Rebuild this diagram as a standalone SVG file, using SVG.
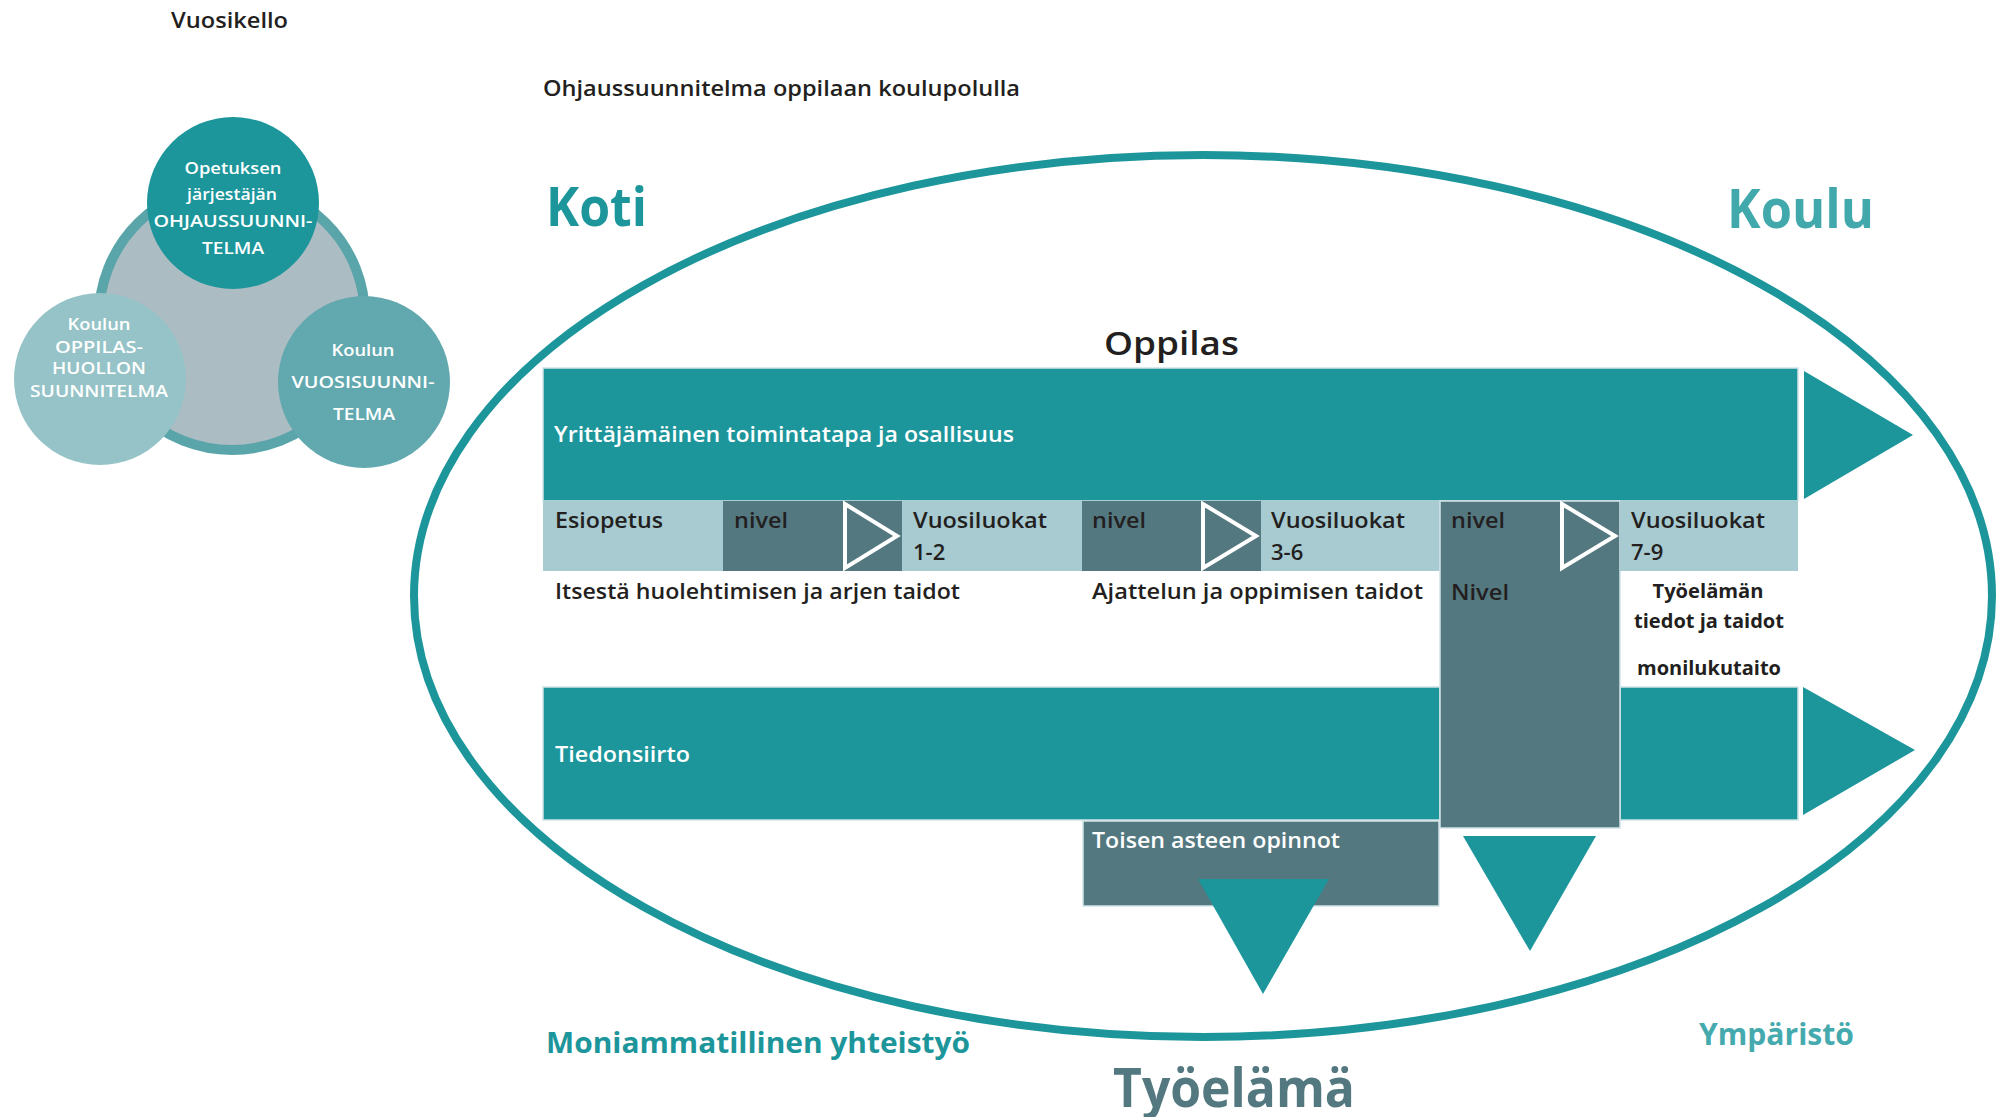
<svg xmlns="http://www.w3.org/2000/svg" width="2000" height="1117" viewBox="0 0 2000 1117">
<style>
text{font-family:"Open Sans",Lato,"Liberation Sans",sans-serif;font-weight:600}
.dk{fill:#231f20}
.wh{fill:#fff}
.teal{fill:#1c969b}
.slate{fill:#537880}
.light{fill:#a7cbd1}
.box{stroke:#d2e4e7;stroke-width:1.5}
.tri{fill:none;stroke:#fff;stroke-width:4;stroke-linejoin:miter}
.ct{fill:#fff;font-size:17px;font-weight:600;text-anchor:middle}
.row{font-size:22px}
.big{font-weight:700}
</style>
<rect width="2000" height="1117" fill="#fff"/>

<g id="titles">
<text class="dk" x="171" y="28" font-size="22" textLength="117" lengthAdjust="spacingAndGlyphs">Vuosikello</text>
<text class="dk" x="543" y="96" font-size="21" textLength="477" lengthAdjust="spacingAndGlyphs">Ohjaussuunnitelma oppilaan koulupolulla</text>
</g>

<g id="vuosikello">
<circle cx="232" cy="317" r="133" fill="#acbcc3" stroke="#5aa5aa" stroke-width="10"/>
<g id="ohjaussuunnitelma">
<circle cx="233" cy="203" r="86" fill="#1c969b"/>
<text class="ct" x="233" y="174" textLength="97" lengthAdjust="spacingAndGlyphs">Opetuksen</text>
<text class="ct" x="232" y="200" textLength="90" lengthAdjust="spacingAndGlyphs">järjestäjän</text>
<text class="ct" x="233" y="227" textLength="159" lengthAdjust="spacingAndGlyphs">OHJAUSSUUNNI-</text>
<text class="ct" x="233" y="254" textLength="62" lengthAdjust="spacingAndGlyphs">TELMA</text>
</g>
<g id="oppilashuolto">
<circle cx="100" cy="379" r="86" fill="#95c3c7"/>
<text class="ct" x="99" y="330" textLength="63" lengthAdjust="spacingAndGlyphs">Koulun</text>
<text class="ct" x="99" y="353" textLength="88" lengthAdjust="spacingAndGlyphs">OPPILAS-</text>
<text class="ct" x="99" y="374" textLength="94" lengthAdjust="spacingAndGlyphs">HUOLLON</text>
<text class="ct" x="99" y="397" textLength="138" lengthAdjust="spacingAndGlyphs">SUUNNITELMA</text>
</g>
<g id="vuosisuunnitelma">
<circle cx="364" cy="382" r="86" fill="#62a9af"/>
<text class="ct" x="363" y="356" textLength="63" lengthAdjust="spacingAndGlyphs">Koulun</text>
<text class="ct" x="363" y="388" textLength="143" lengthAdjust="spacingAndGlyphs">VUOSISUUNNI-</text>
<text class="ct" x="364" y="420" textLength="62" lengthAdjust="spacingAndGlyphs">TELMA</text>
</g>
</g>

<g id="ymparisto">
<ellipse cx="1203" cy="596" rx="789" ry="441" fill="none" stroke="#1c969b" stroke-width="8"/>
<text class="big" x="546" y="226" font-size="53" fill="#1c969b" textLength="101" lengthAdjust="spacingAndGlyphs">Koti</text>
<text class="big" x="1727" y="228" font-size="53" fill="#41a8ac" textLength="147" lengthAdjust="spacingAndGlyphs">Koulu</text>
<text class="dk" x="1104" y="355" font-size="32" textLength="135" lengthAdjust="spacingAndGlyphs">Oppilas</text>
<text class="big" x="546" y="1053" font-size="28" fill="#1c969b" textLength="424" lengthAdjust="spacingAndGlyphs">Moniammatillinen yhteistyö</text>
<text class="big" x="1113" y="1107" font-size="53" fill="#537880" textLength="242" lengthAdjust="spacingAndGlyphs">Työelämä</text>
<text class="big" x="1699" y="1045" font-size="31" fill="#45aaae" textLength="155" lengthAdjust="spacingAndGlyphs">Ympäristö</text>
</g>

<g id="yrittajamainen">
<rect class="teal box" x="543" y="368" width="1255" height="133"/>
<text class="wh row" x="554" y="442" textLength="460" lengthAdjust="spacingAndGlyphs">Yrittäjämäinen toimintatapa ja osallisuus</text>
</g>

<g id="esiopetus">
<rect class="light" x="543" y="501" width="180" height="70"/>
<text class="dk row" x="555" y="528" textLength="108" lengthAdjust="spacingAndGlyphs">Esiopetus</text>
</g>
<g id="nivel1">
<rect class="slate" x="723" y="501" width="179" height="70"/>
<text class="dk row" x="734" y="528" textLength="54" lengthAdjust="spacingAndGlyphs">nivel</text>
<polygon class="tri" points="845,504 897,536 845,568"/>
</g>
<g id="vuosiluokat12">
<rect class="light" x="902" y="501" width="180" height="70"/>
<text class="dk row" x="913" y="528" textLength="134" lengthAdjust="spacingAndGlyphs">Vuosiluokat</text>
<text class="dk row" x="913" y="560">1-2</text>
</g>
<g id="nivel2">
<rect class="slate" x="1082" y="501" width="179" height="70"/>
<text class="dk row" x="1092" y="528" textLength="54" lengthAdjust="spacingAndGlyphs">nivel</text>
<polygon class="tri" points="1203,504 1256,536 1203,568"/>
</g>
<g id="vuosiluokat36">
<rect class="light" x="1261" y="501" width="179" height="70"/>
<text class="dk row" x="1271" y="528" textLength="134" lengthAdjust="spacingAndGlyphs">Vuosiluokat</text>
<text class="dk row" x="1271" y="560">3-6</text>
</g>

<g id="tiedonsiirto">
<rect class="teal box" x="543" y="687" width="897" height="133"/>
<rect class="teal box" x="1620" y="687" width="178" height="133"/>
<text class="wh row" x="555" y="762" textLength="135" lengthAdjust="spacingAndGlyphs">Tiedonsiirto</text>
</g>

<g id="toisen-asteen">
<rect class="slate box" x="1083" y="821" width="356" height="85"/>
<text class="wh row" x="1092" y="848" textLength="248" lengthAdjust="spacingAndGlyphs">Toisen asteen opinnot</text>
</g>

<g id="nivel3">
<rect class="slate box" x="1440" y="501" width="180" height="327"/>
<text class="dk row" x="1451" y="528" textLength="54" lengthAdjust="spacingAndGlyphs">nivel</text>
<text class="dk row" x="1451" y="600" textLength="58" lengthAdjust="spacingAndGlyphs">Nivel</text>
<polygon class="tri" points="1562,504 1615,536 1562,568"/>
</g>

<g id="vuosiluokat79">
<rect class="light" x="1620" y="501" width="178" height="70"/>
<text class="dk row" x="1631" y="528" textLength="134" lengthAdjust="spacingAndGlyphs">Vuosiluokat</text>
<text class="dk row" x="1631" y="560">7-9</text>
</g>

<g id="taidot">
<text class="dk row" x="555" y="599" textLength="405" lengthAdjust="spacingAndGlyphs">Itsestä huolehtimisen ja arjen taidot</text>
<text class="dk row" x="1092" y="599" textLength="331" lengthAdjust="spacingAndGlyphs">Ajattelun ja oppimisen taidot</text>
<text class="dk big" x="1708" y="598" font-size="19" text-anchor="middle" textLength="111" lengthAdjust="spacingAndGlyphs">Työelämän</text>
<text class="dk big" x="1709" y="628" font-size="19" text-anchor="middle" textLength="150" lengthAdjust="spacingAndGlyphs">tiedot ja taidot</text>
<text class="dk big" x="1709" y="675" font-size="19" text-anchor="middle" textLength="144" lengthAdjust="spacingAndGlyphs">monilukutaito</text>
</g>

<g id="connectors">
<polygon class="teal" points="1804,371 1913,435 1804,499"/>
<polygon class="teal" points="1803,687 1915,750 1803,815"/>
<polygon class="teal" points="1198,879 1329,879 1263,994"/>
<polygon class="teal" points="1463,836 1596,836 1530,951"/>
</g>
</svg>
